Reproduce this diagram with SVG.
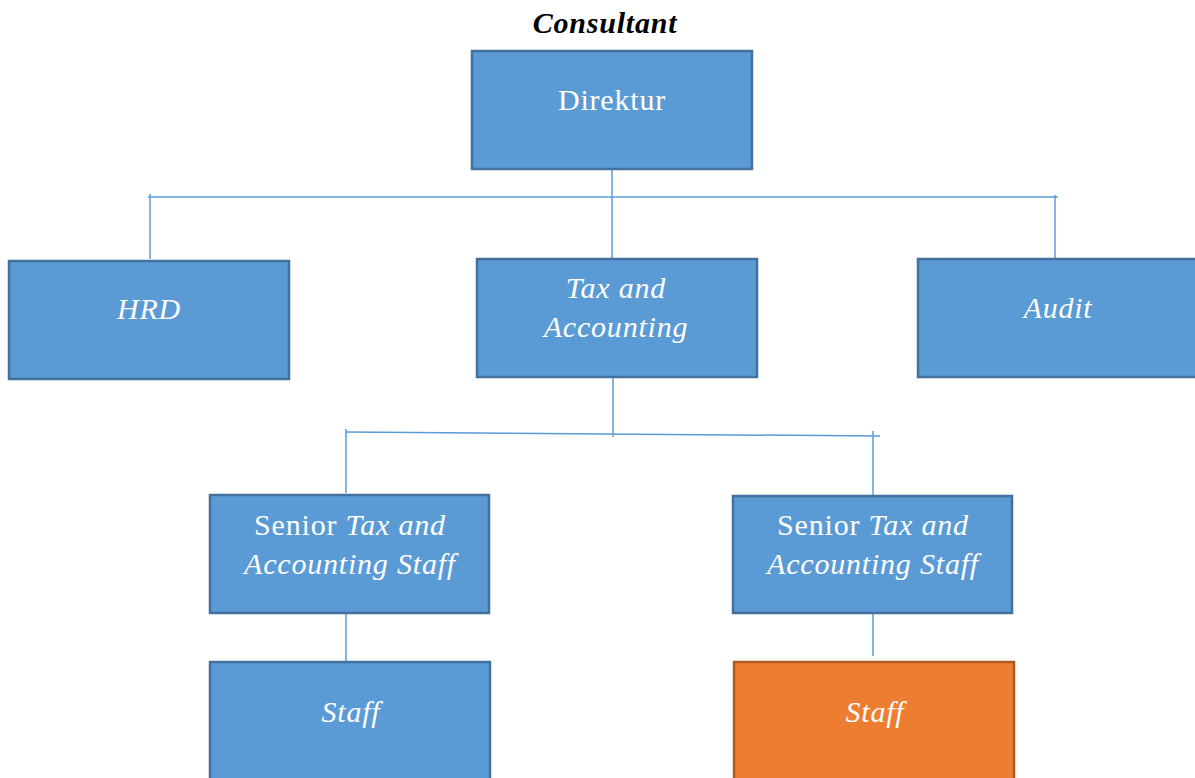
<svg xmlns="http://www.w3.org/2000/svg" width="1195" height="778" viewBox="0 0 1195 778">
<style>
.box{fill:#5B9BD5;stroke:#41719C;stroke-width:2.5}
.orange{fill:#ED7D31;stroke:#AE5A21;stroke-width:2.5}
.t{font-family:"Liberation Serif",serif;font-size:30px;letter-spacing:0.8px;fill:#FFFFFF;text-anchor:middle}
.i{font-style:italic}
.c{stroke:#5B9BD5;stroke-width:1.5;fill:none}
</style>
<rect width="1195" height="778" fill="#FFFFFF"/>
<text x="605" y="33" font-family="'Liberation Serif',serif" font-size="30" letter-spacing="0.8" font-weight="bold" font-style="italic" text-anchor="middle" fill="#000000">Consultant</text>
<g id="connectors">
<line class="c" x1="612" y1="169" x2="612" y2="258"/>
<line class="c" x1="148" y1="197" x2="1058" y2="197"/>
<line class="c" x1="150" y1="194" x2="150" y2="259"/>
<line class="c" x1="1055" y1="195" x2="1055" y2="258"/>
<line class="c" x1="613" y1="377" x2="613" y2="437"/>
<line class="c" x1="346" y1="432" x2="880" y2="436"/>
<line class="c" x1="346" y1="429" x2="346" y2="493"/>
<line class="c" x1="873" y1="431" x2="873" y2="495"/>
<line class="c" x1="346" y1="613" x2="346" y2="662"/>
<line class="c" x1="873" y1="613" x2="873" y2="656"/>
</g>
<g id="direktur">
<rect class="box" x="472" y="51" width="280" height="118"/>
<text class="t" x="612" y="110">Direktur</text>
</g>
<g id="hrd">
<rect class="box" x="9" y="261" width="280" height="118"/>
<text class="t i" x="149" y="319">HRD</text>
</g>
<g id="tax">
<rect class="box" x="477" y="259" width="280" height="118"/>
<text class="t i" x="616" y="298">Tax and</text>
<text class="t i" x="616" y="337">Accounting</text>
</g>
<g id="audit">
<rect class="box" x="918" y="259" width="290" height="118"/>
<text class="t i" x="1058" y="318">Audit</text>
</g>
<g id="senior1">
<rect class="box" x="210" y="495" width="279" height="118"/>
<text class="t" x="350" y="535">Senior <tspan class="i">Tax and</tspan></text>
<text class="t i" x="350" y="574">Accounting Staff</text>
</g>
<g id="senior2">
<rect class="box" x="733" y="496" width="279" height="117"/>
<text class="t" x="873" y="535">Senior <tspan class="i">Tax and</tspan></text>
<text class="t i" x="873" y="574">Accounting Staff</text>
</g>
<g id="staff1">
<rect class="box" x="210" y="662" width="280" height="130"/>
<text class="t i" x="351" y="722">Staff</text>
</g>
<g id="staff2">
<rect class="orange" x="734" y="662" width="280" height="130"/>
<text class="t i" x="875" y="722">Staff</text>
</g>
</svg>
